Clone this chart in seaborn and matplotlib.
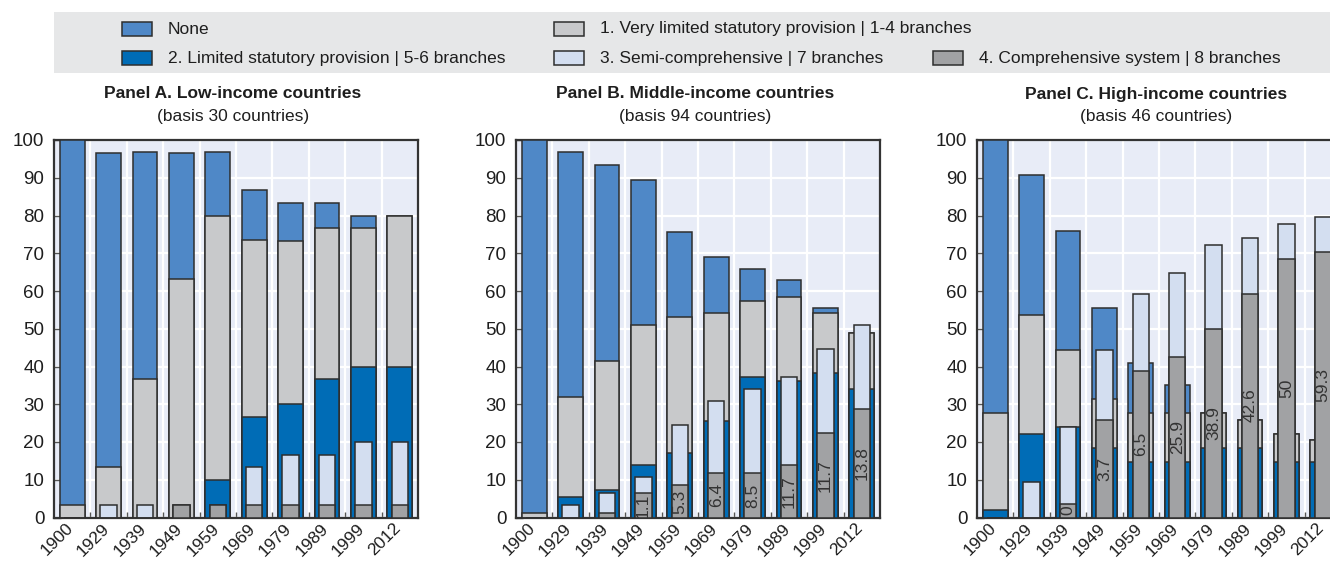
import numpy as np
import matplotlib
matplotlib.use("Agg")
import matplotlib.pyplot as plt
import matplotlib.transforms as mtransforms
from matplotlib.patches import Rectangle
from matplotlib.ticker import FixedLocator
import seaborn as sns

# ---------------------------------------------------------------------------
# Data: share of countries (%) by type of social protection system
# ---------------------------------------------------------------------------
years = ["1900", "1929", "1939", "1949", "1959", "1969", "1979", "1989", "1999", "2012"]

# Panel A. Low-income countries
low_none = [96.7, 83.3, 60.0, 33.3, 16.7, 13.3, 10.0, 6.7, 3.3, 0.0]
low_very_limited = [3.3, 13.3, 36.7, 63.3, 70.0, 46.7, 43.3, 40.0, 36.7, 40.0]
low_limited = [0.0, 0.0, 0.0, 0.0, 10.0, 26.7, 30.0, 36.7, 40.0, 40.0]
low_semi = [0.0, 3.3, 3.3, 0.0, 0.0, 10.0, 13.3, 13.3, 16.7, 16.7]
low_comprehensive = [0.0, 0.0, 0.0, 3.3, 3.3, 3.3, 3.3, 3.3, 3.3, 3.3]
low_labels = ["", "", "", "", "", "", "", "", "", ""]

# Panel B. Middle-income countries
mid_none = [98.9, 64.9, 52.1, 38.3, 22.3, 14.9, 8.5, 4.3, 1.1, 0.0]
mid_very_limited = [1.1, 26.6, 34.0, 37.2, 36.2, 28.7, 20.2, 22.3, 16.0, 14.9]
mid_limited = [0.0, 5.3, 7.4, 13.8, 17.0, 25.5, 37.2, 36.2, 38.3, 34.0]
mid_semi = [0.0, 3.2, 5.3, 4.3, 16.0, 19.1, 22.3, 23.4, 22.3, 22.3]
mid_comprehensive = [0.0, 0.0, 1.1, 6.4, 8.5, 11.7, 11.7, 13.8, 22.3, 28.7]
mid_labels = ["", "", "", "1.1", "5.3", "6.4", "8.5", "11.7", "11.7", "13.8"]

# Panel C. High-income countries
high_none = [72.2, 37.0, 31.5, 24.1, 13.0, 7.4, 0.0, 0.0, 0.0, 0.0]
high_very_limited = [25.9, 31.5, 20.4, 13.0, 13.0, 13.0, 9.3, 7.4, 7.4, 5.6]
high_limited = [1.9, 22.2, 24.1, 18.5, 14.8, 14.8, 18.5, 18.5, 14.8, 14.8]
high_semi = [0.0, 9.3, 20.4, 18.5, 20.4, 22.2, 22.2, 14.8, 9.3, 9.3]
high_comprehensive = [0.0, 0.0, 3.7, 25.9, 38.9, 42.6, 50.0, 59.3, 68.5, 70.4]
high_labels = ["", "", "0", "3.7", "6.5", "25.9", "38.9", "42.6", "50", "59.3"]

panel_titles = ["Panel A. Low-income countries",
                "Panel B. Middle-income countries",
                "Panel C. High-income countries"]
panel_subtitles = ["(basis 30 countries)", "(basis 94 countries)", "(basis 46 countries)"]

legend_labels = ["None",
                 "1. Very limited statutory provision | 1-4 branches",
                 "2. Limited statutory provision | 5-6 branches",
                 "3. Semi-comprehensive | 7 branches",
                 "4. Comprehensive system | 8 branches"]

# ---------------------------------------------------------------------------
# Styling
# ---------------------------------------------------------------------------
C_NONE = "#4F88C7"
C_VERY = "#C8C9CB"
C_LIM = "#006CB6"
C_SEMI = "#D3DEF0"
C_COMP = "#A1A2A4"
EDGE = "#2E2E2E"
AX_BG = "#E8ECF7"
LEG_BG = "#E6E7E8"
TXT = "#1E1E1E"
WIDE = 0.68
NARROW = 0.45

sns.set_theme(style="white")
plt.rcParams["font.family"] = ["Liberation Sans Narrow", "Liberation Sans", "DejaVu Sans"]

W, H = 1330, 564
fig = plt.figure(figsize=(W / 100, H / 100), dpi=100)
# year labels: baseline end sits just right of and below each bar centre
label_shift = mtransforms.ScaledTranslation(2 / 100, -6 / 100, fig.dpi_scale_trans)


def fx(px):
    return px / W


def fy(py):
    return 1 - py / H


def bars(ax, values, color, width):
    sns.barplot(x=years, y=np.asarray(values, dtype=float), color=color, width=width,
                saturation=1, edgecolor=EDGE, linewidth=1.1, errorbar=None, ax=ax,
                zorder=3)


def draw_panel(ax, none, very, limited, semi, comp, labels):
    none, very, limited = map(np.asarray, (none, very, limited))
    semi, comp = map(np.asarray, (semi, comp))
    # main stack: limited, very limited, none (drawn as overlapping cumulative bars)
    bars(ax, limited + very + none, C_NONE, WIDE)
    bars(ax, limited + very, C_VERY, WIDE)
    bars(ax, limited, C_LIM, WIDE)
    # inner stack: comprehensive, semi-comprehensive
    bars(ax, comp + semi, C_SEMI, NARROW)
    bars(ax, comp, C_COMP, NARROW)
    ax.bar_label(ax.containers[-1], labels=labels, label_type="center",
                 rotation=90, fontsize=12.5, color="#333333")

    ax.set_facecolor(AX_BG)
    ax.set_xlim(-0.5, len(years) - 0.5)
    ax.set_ylim(0, 100)
    ax.set_xlabel("")
    ax.set_ylabel("")
    ax.set_yticks(np.arange(0, 101, 10))
    ax.xaxis.set_minor_locator(FixedLocator(np.arange(0.5, len(years) - 1, 1.0)))
    ax.set_axisbelow(True)
    ax.grid(axis="y", which="major", color="white", linewidth=1.6, zorder=0)
    ax.grid(axis="x", which="minor", color="white", linewidth=1.6, zorder=0)
    ax.grid(axis="x", which="major", visible=False)
    ax.tick_params(axis="y", which="major", direction="in", length=5, width=1,
                   color="#555555", labelsize=13.5, labelcolor=TXT, pad=7, left=True)
    ax.tick_params(axis="x", which="major", length=0, labelsize=12.5, labelcolor=TXT, pad=4)
    ax.tick_params(axis="x", which="minor", direction="in", length=4, width=1,
                   color="#555555", bottom=True)
    for lab in ax.get_xticklabels():
        lab.set_rotation(45)
        lab.set_ha("right")
        lab.set_va("baseline")
        lab.set_rotation_mode("anchor")
        lab.set_transform(lab.get_transform() + label_shift)
    for sp in ax.spines.values():
        sp.set_visible(True)
        sp.set_color("#333333")
        sp.set_linewidth(1.6)


panels = [
    (54, (low_none, low_very_limited, low_limited, low_semi, low_comprehensive, low_labels)),
    (516, (mid_none, mid_very_limited, mid_limited, mid_semi, mid_comprehensive, mid_labels)),
    (977, (high_none, high_very_limited, high_limited, high_semi, high_comprehensive, high_labels)),
]
ax_w, ax_top, ax_bot = 364, 140, 517.5
for i, (left, data) in enumerate(panels):
    ax = fig.add_axes([fx(left), fy(ax_bot), fx(ax_w), (ax_bot - ax_top) / H])
    draw_panel(ax, *data)
    cx = fx(left + ax_w / 2 - 3)
    fig.text(cx, fy(94), panel_titles[i], ha="center", va="center",
             fontsize=12.5, fontweight="bold", color=TXT)
    fig.text(cx, fy(116), panel_subtitles[i], ha="center", va="center",
             fontsize=12.5, color=TXT)

# Legend band
fig.patches.append(Rectangle((fx(54), fy(73)), 1 - fx(54), (73 - 12) / H,
                             transform=fig.transFigure, facecolor=LEG_BG,
                             edgecolor="none", zorder=0))
legend_items = [
    (122, 29, C_NONE, legend_labels[0]),
    (554, 29, C_VERY, legend_labels[1]),
    (122, 58, C_LIM, legend_labels[2]),
    (554, 58, C_SEMI, legend_labels[3]),
    (933, 58, C_COMP, legend_labels[4]),
]
for x0, yc, col, lab in legend_items:
    fig.patches.append(Rectangle((fx(x0), fy(yc + 7)), fx(30), 14 / H,
                                 transform=fig.transFigure, facecolor=col,
                                 edgecolor=EDGE, linewidth=1.1, zorder=1))
    fig.text(fx(x0 + 46), fy(yc), lab, ha="left", va="center",
             fontsize=12.5, color=TXT)

fig.savefig("out.png", dpi=100)
